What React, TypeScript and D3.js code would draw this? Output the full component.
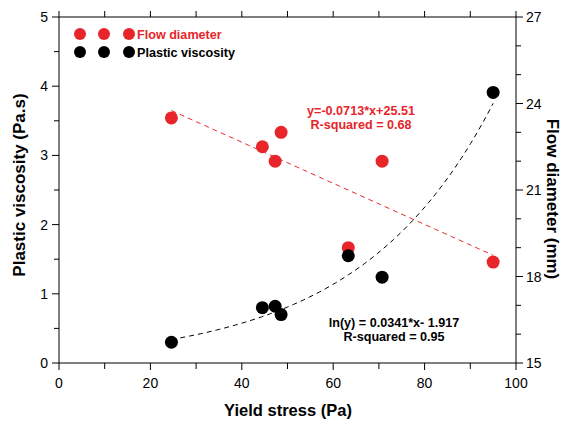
import React from "react";
import * as d3 from "d3";

const yieldStress = [24.6, 44.5, 47.3, 48.6, 63.3, 70.7, 95.0];
const plasticViscosity = [0.3, 0.8, 0.82, 0.7, 1.55, 1.24, 3.91];
const flowDiameter = [23.5, 22.5, 22.0, 23.0, 19.0, 22.0, 18.5];
const xTicks = [0, 20, 40, 60, 80, 100];
const yLeftTicks = [0, 1, 2, 3, 4, 5];
const yRightTicks = [15, 18, 21, 24, 27];
const linFit = { slope: -0.0713, intercept: 25.51 };
const expFit = { slope: 0.0341, intercept: -1.917 };

const W = 566, H = 421;
const M = { left: 59, right: 516, top: 17, bottom: 363 };
const RED = "#e8252b";
const FONT = "'Liberation Sans', Arial, sans-serif";

export default function App() {
  const x = d3.scaleLinear().domain([0, 100]).range([M.left, M.right]);
  const yL = d3.scaleLinear().domain([0, 5]).range([M.bottom, M.top]);
  const yR = d3.scaleLinear().domain([15, 27]).range([M.bottom, M.top]);

  const xMin = d3.min(yieldStress)!, xMax = d3.max(yieldStress)!;
  const fitXs = d3.range(0, 101).map((i) => xMin + ((xMax - xMin) * i) / 100);
  const redLine = d3.line<number>().x((v) => x(v)).y((v) => yR(linFit.slope * v + linFit.intercept))(fitXs);
  const blackLine = d3.line<number>().x((v) => x(v)).y((v) => yL(Math.exp(expFit.slope * v + expFit.intercept)))(fitXs);

  const minorX = d3.range(0, 101, 10);
  const minorL = d3.range(0, 5.01, 0.5);
  const minorR = d3.range(15, 27.01, 1);

  return (
    <svg width={W} height={H} style={{ position: "absolute", left: 0, top: 0, background: "#fff" }} fontFamily={FONT}>
      {/* frame */}
      <rect x={M.left} y={M.top} width={M.right - M.left} height={M.bottom - M.top} fill="none" stroke="#000" strokeWidth={1} />
      {/* bottom ticks */}
      {minorX.map((v) => (
        <line key={"bx" + v} x1={x(v)} x2={x(v)} y1={M.bottom} y2={M.bottom + (v % 20 === 0 ? 7 : 6)} stroke="#000" />
      ))}
      {/* top ticks */}
      {minorX.map((v) => (
        <line key={"tx" + v} x1={x(v)} x2={x(v)} y1={M.top} y2={M.top - 6} stroke="#000" />
      ))}
      {xTicks.map((v) => (
        <text key={"xl" + v} x={x(v)} y={M.bottom + 25} fontSize={14} textAnchor="middle">{v}</text>
      ))}
      {/* left ticks */}
      {minorL.map((v) => (
        <line key={"ly" + v} x1={M.left} x2={M.left - (Number.isInteger(v) ? 7 : 5)} y1={yL(v)} y2={yL(v)} stroke="#000" />
      ))}
      {yLeftTicks.map((v) => (
        <text key={"yl" + v} x={M.left - 11} y={yL(v) + 5} fontSize={14} textAnchor="end">{v}</text>
      ))}
      {/* right ticks */}
      {minorR.map((v) => (
        <line key={"ry" + v} x1={M.right} x2={M.right + ((v - 15) % 3 === 0 ? 7 : 5)} y1={yR(v)} y2={yR(v)} stroke="#000" />
      ))}
      {yRightTicks.map((v) => (
        <text key={"yr" + v} x={M.right + 10} y={yR(v) + 5} fontSize={14} textAnchor="start">{v}</text>
      ))}
      {/* axis titles */}
      <text x={288} y={416} fontSize={16.5} fontWeight="bold" textAnchor="middle">Yield stress (Pa)</text>
      <text transform={`translate(25,185) rotate(-90)`} fontSize={17} fontWeight="bold" textAnchor="middle">Plastic viscosity (Pa.s)</text>
      <text transform={`translate(547,199) rotate(90)`} fontSize={17} fontWeight="bold" textAnchor="middle">Flow diameter (mm)</text>

      {/* fit lines */}
      <path d={redLine ?? ""} fill="none" stroke={RED} strokeWidth={1} strokeDasharray="5,4" />
      <path d={blackLine ?? ""} fill="none" stroke="#000" strokeWidth={1} strokeDasharray="5,4" />

      {/* points */}
      {yieldStress.map((v, i) => (
        <circle key={"r" + i} cx={x(v)} cy={yR(flowDiameter[i])} r={6.5} fill={RED} />
      ))}
      {yieldStress.map((v, i) => (
        <circle key={"k" + i} cx={x(v)} cy={yL(plasticViscosity[i])} r={6.5} fill="#000" />
      ))}

      {/* legend */}
      {[80, 104, 129].map((cx) => (
        <circle key={"lr" + cx} cx={cx} cy={34} r={6} fill={RED} />
      ))}
      {[80, 104, 129].map((cx) => (
        <circle key={"lk" + cx} cx={cx} cy={52} r={6} fill="#000" />
      ))}
      <text x={137} y={38.5} fontSize={12.6} fontWeight="bold" fill={RED}>Flow diameter</text>
      <text x={137} y={56.5} fontSize={12.6} fontWeight="bold" fill="#000">Plastic viscosity</text>

      {/* annotations */}
      <text x={361} y={115} fontSize={12.6} fontWeight="bold" fill={RED} textAnchor="middle">y=-0.0713*x+25.51</text>
      <text x={361} y={129} fontSize={12.6} fontWeight="bold" fill={RED} textAnchor="middle">R-squared = 0.68</text>
      <text x={394} y={327} fontSize={12.6} fontWeight="bold" fill="#000" textAnchor="middle">ln(y) = 0.0341*x- 1.917</text>
      <text x={394} y={341} fontSize={12.6} fontWeight="bold" fill="#000" textAnchor="middle">R-squared = 0.95</text>
    </svg>
  );
}
